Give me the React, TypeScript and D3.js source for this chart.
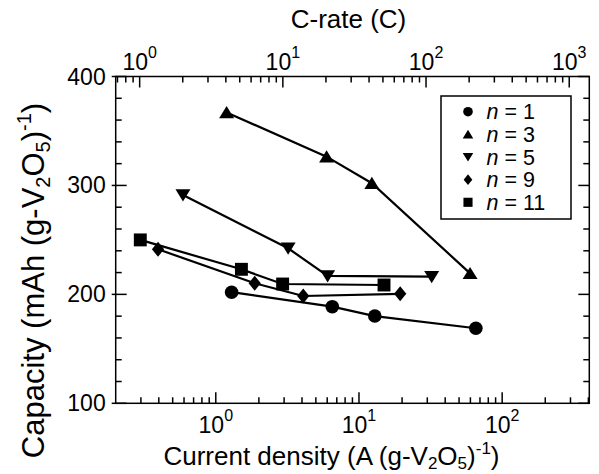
import React from "react";
import * as d3 from "d3";

// ---- data (current density A/g vs capacity mAh/g) ----
const seriesNames = ["1", "3", "5", "9", "11"];
const seriesShapes = ["circle", "triangleUp", "triangleDown", "diamond", "square"];

const n1X = [1.29, 6.51, 12.9, 65.5];
const n1Y = [202, 188.7, 180.1, 168.9];
const n3X = [1.19, 5.94, 12.3, 59.7];
const n3Y = [367, 326.4, 302, 219.3];
const n5X = [0.59, 3.2, 6.04, 32.2];
const n5Y = [291.2, 242.3, 216.9, 216.2];
const n9X = [0.395, 1.87, 4.08, 19.4];
const n9Y = [241.4, 210.2, 198.5, 200.5];
const n11X = [0.297, 1.51, 2.93, 14.96];
const n11Y = [250, 223, 209.5, 208.6];

const seriesX = [n1X, n3X, n5X, n9X, n11X];
const seriesY = [n1Y, n3Y, n5Y, n9Y, n11Y];

const yTicks = [100, 200, 300, 400];
const xMajor = [1, 10, 100];
const cMajor = [1, 10, 100, 1000];
const oneC = 0.294; // A/g corresponding to 1C

const W = 599;
const H = 474;
const left = 115.7, right = 589.3, top = 76.5, bottom = 403.3;
const FONT = "'Liberation Sans', Arial, Helvetica, sans-serif";

function markerPath(shape: string, s: number): string {
  switch (shape) {
    case "triangleUp":
      return `M0,${-s * 0.95}L${s * 1.1},${s * 0.85}L${-s * 1.1},${s * 0.85}Z`;
    case "triangleDown":
      return `M0,${s * 0.95}L${s * 1.1},${-s * 0.85}L${-s * 1.1},${-s * 0.85}Z`;
    case "diamond":
      return `M0,${-s * 1.1}L${s * 0.9},0L0,${s * 1.1}L${-s * 0.9},0Z`;
    case "square":
      return `M${-s * 0.95},${-s * 0.95}H${s * 0.95}V${s * 0.95}H${-s * 0.95}Z`;
    default:
      return "";
  }
}

function Marker({ shape, x, y, s }: { shape: string; x: number; y: number; s: number }) {
  if (shape === "circle") return <circle cx={x} cy={y} r={s} fill="#000" />;
  return <path d={markerPath(shape, s)} transform={`translate(${x},${y})`} fill="#000" />;
}

function minorTicks(domain: [number, number]): number[] {
  const out: number[] = [];
  for (let e = -3; e <= 4; e++) {
    for (let m = 2; m <= 9; m++) {
      const v = m * Math.pow(10, e);
      if (v > domain[0] * 1.01 && v < domain[1] * 0.99) out.push(v);
    }
  }
  return out;
}

export default function App() {
  const x = d3.scaleLog().domain([0.2, 406]).range([left, right]);
  const xc = d3.scaleLog().domain([0.2 / oneC, 406 / oneC]).range([left, right]);
  const y = d3.scaleLinear().domain([100, 400]).range([bottom, top]);

  const line = d3
    .line<[number, number]>()
    .x((d) => x(d[0]))
    .y((d) => y(d[1]));

  const yMinor = d3.range(100, 401, 20).filter((v) => v % 100 !== 0);
  const xMinor = minorTicks(x.domain() as [number, number]);
  const cMinor = minorTicks(xc.domain() as [number, number]);

  const majLen = 11, minLen = 6;
  const tickFs = 23, supFs = 16, titleFs = 26, yTitleFs = 31;

  const legendX = 441, legendY = 96, legendW = 130, legendH = 123;
  const legendRow0 = 111.7, legendStep = 22.65;

  return (
    <svg width={W} height={H} style={{ position: "absolute", left: 0, top: 0, background: "#fff" }} fontFamily={FONT}>
      <rect x={0} y={0} width={W} height={H} fill="#fff" />
      {/* data lines */}
      {seriesX.map((xs, i) => (
        <path
          key={"l" + i}
          d={line(xs.map((v, j) => [v, seriesY[i][j]] as [number, number])) || ""}
          fill="none"
          stroke="#000"
          strokeWidth={2.2}
        />
      ))}
      {seriesX.map((xs, i) =>
        xs.map((v, j) => (
          <Marker key={`m${i}-${j}`} shape={seriesShapes[i]} x={x(v)} y={y(seriesY[i][j])} s={6.8} />
        ))
      )}

      {/* frame */}
      <rect x={left} y={top} width={right - left} height={bottom - top} fill="none" stroke="#000" strokeWidth={1.5} />

      {/* y ticks left & right */}
      {yTicks.map((v) => (
        <g key={"yt" + v}>
          <line x1={left - 4} x2={left + majLen} y1={y(v)} y2={y(v)} stroke="#000" strokeWidth={1.5} />
          <line x1={right} x2={right - majLen} y1={y(v)} y2={y(v)} stroke="#000" strokeWidth={1.5} />
          <text x={left - 10} y={y(v)} textAnchor="end" dominantBaseline="central" fontSize={tickFs}>
            {v}
          </text>
        </g>
      ))}
      {yMinor.map((v) => (
        <g key={"ym" + v}>
          <line x1={left} x2={left + minLen} y1={y(v)} y2={y(v)} stroke="#000" strokeWidth={1.5} />
          <line x1={right} x2={right - minLen} y1={y(v)} y2={y(v)} stroke="#000" strokeWidth={1.5} />
        </g>
      ))}

      {/* bottom axis */}
      {xMajor.map((v) => (
        <g key={"xt" + v}>
          <line x1={x(v)} x2={x(v)} y1={bottom} y2={bottom - majLen} stroke="#000" strokeWidth={1.5} />
          <text x={x(v)} y={433} textAnchor="middle" fontSize={tickFs}>
            10
            <tspan dy={-12} fontSize={supFs}>
              {Math.round(Math.log10(v))}
            </tspan>
          </text>
        </g>
      ))}
      {xMinor.map((v) => (
        <line key={"xm" + v} x1={x(v)} x2={x(v)} y1={bottom} y2={bottom - minLen} stroke="#000" strokeWidth={1.5} />
      ))}

      {/* top axis (C-rate) */}
      {cMajor.map((v) => (
        <g key={"ct" + v}>
          <line x1={xc(v)} x2={xc(v)} y1={top} y2={top + majLen} stroke="#000" strokeWidth={1.5} />
          <text x={xc(v)} y={70} textAnchor="middle" fontSize={tickFs}>
            10
            <tspan dy={-12} fontSize={supFs}>
              {Math.round(Math.log10(v))}
            </tspan>
          </text>
        </g>
      ))}
      {cMinor.map((v) => (
        <line key={"cm" + v} x1={xc(v)} x2={xc(v)} y1={top} y2={top + minLen} stroke="#000" strokeWidth={1.5} />
      ))}

      {/* titles */}
      <text x={348.5} y={28} textAnchor="middle" fontSize={titleFs}>
        C-rate (C)
      </text>
      <text x={331.5} y={465} textAnchor="middle" fontSize={titleFs}>
        Current density (A (g-V
        <tspan dy={4} fontSize={17}>2</tspan>
        <tspan dy={-4}>O</tspan>
        <tspan dy={4} fontSize={17}>5</tspan>
        <tspan dy={-4}>)</tspan>
        <tspan dy={-11} fontSize={17}>-1</tspan>
        <tspan dy={11}>)</tspan>
      </text>
      <text transform="translate(43.5,280.5) rotate(-90)" textAnchor="middle" fontSize={yTitleFs}>
        Capacity (mAh (g-V
        <tspan dy={6} fontSize={20}>2</tspan>
        <tspan dy={-6}>O</tspan>
        <tspan dy={6} fontSize={20}>5</tspan>
        <tspan dy={-6}>)</tspan>
        <tspan dy={-13} fontSize={20}>-1</tspan>
        <tspan dy={13}>)</tspan>
      </text>

      {/* legend */}
      <rect x={legendX} y={legendY} width={legendW} height={legendH} fill="#fff" stroke="#000" strokeWidth={1.5} />
      {seriesNames.map((name, i) => {
        const cy = legendRow0 + i * legendStep;
        return (
          <g key={"lg" + i}>
            <Marker shape={seriesShapes[i]} x={468} y={cy} s={4.8} />
            <text x={486.5} y={cy + 7.5} fontSize={21.5}>
              <tspan fontStyle="italic">n</tspan> = {name}
            </text>
          </g>
        );
      })}
    </svg>
  );
}
